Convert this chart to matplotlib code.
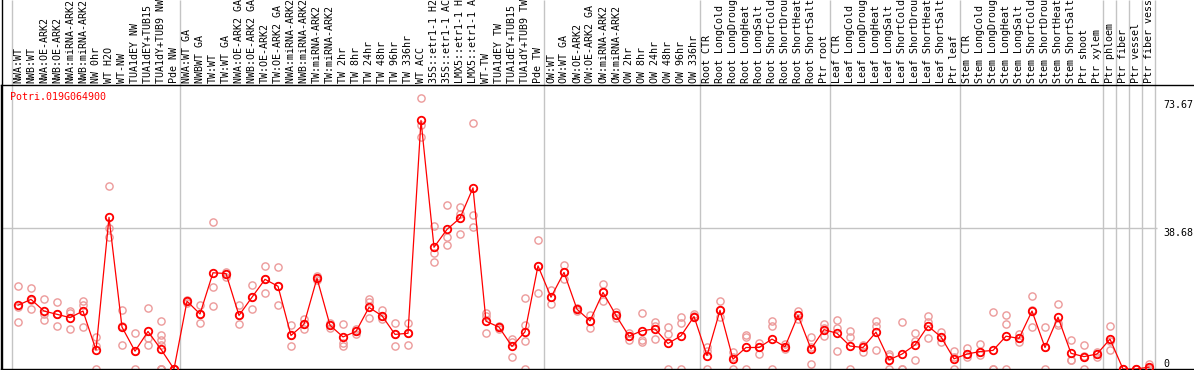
import matplotlib
matplotlib.use("Agg")
import matplotlib.pyplot as plt
from matplotlib.lines import Line2D

labels = [
    "NWA:WT", "NWB:WT", "NWA:OE-ARK2", "NWB:OE-ARK2", "NWA:miRNA-ARK2", "NWB:miRNA-ARK2",
    "NW 0hr", "WT H2O", "WT-NW", "TUA1dEY NW", "TUA1dEY+TUB15 NW", "TUA1dY+TUB9 NW", "Pde NW",
    "NWA:WT GA", "NWBWT GA", "TW:WT", "TW:WT GA", "NWA:OE-ARK2 GA", "NWB:OE-ARK2 GA",
    "TW:OE-ARK2", "TW:OE-ARK2 GA", "NWA:miRNA-ARK2 GA", "NWB:miRNA-ARK2 GA", "TW:miRNA-ARK2",
    "TW:miRNA-ARK2", "TW 2hr", "TW 8hr", "TW 24hr", "TW 48hr", "TW 96hr", "TW 336hr",
    "WT ACC", "35S::etr1-1 H2O", "35S::etr1-1 ACC", "LMX5::etr1-1 H2O", "LMX5::etr1-1 ACC",
    "WT-TW", "TUA1dEY TW", "TUA1dEY+TUB15 TW", "TUA1dY+TUB9 TW", "Pde TW",
    "OW:WT", "OW:WT GA", "OW:OE-ARK2", "OW:OE-ARK2 GA", "OW:miRNA-ARK2", "OW:miRNA-ARK2",
    "OW 2hr", "OW 8hr", "OW 24hr", "OW 48hr", "OW 96hr", "OW 336hr",
    "Root CTR", "Root LongCold", "Root LongDrought", "Root LongHeat", "Root LongSalt",
    "Root ShortCold", "Root ShortDrought", "Root ShortHeat", "Root ShortSalt", "Ptr root",
    "Leaf CTR", "Leaf LongCold", "Leaf LongDrought", "Leaf LongHeat", "Leaf LongSalt",
    "Leaf ShortCold", "Leaf ShortDrought", "Leaf ShortHeat", "Leaf ShortSalt", "Ptr leaf",
    "Stem CTR", "Stem LongCold", "Stem LongDrought", "Stem LongHeat", "Stem LongSalt",
    "Stem ShortCold", "Stem ShortDrought", "Stem ShortHeat", "Stem ShortSalt", "Ptr shoot",
    "Ptr xylem", "Ptr phloem", "Ptr fiber", "Ptr vessel", "Ptr fiber vessel",
]

means = [
    17.5, 19.1, 15.9, 15.0, 14.1, 15.9, 5.2, 41.6, 11.5, 4.9, 10.3, 5.4, 0.0,
    18.6, 15.1, 26.4, 26.2, 14.7, 19.7, 24.6, 22.7, 9.2, 12.3, 24.9, 12.0,
    8.8, 10.3, 16.9, 14.6, 9.5, 9.8, 68.2, 33.4, 38.3, 41.4, 49.7, 13.1,
    11.5, 6.2, 10.2, 28.3, 19.7, 26.5, 16.4, 13.2, 21.0, 14.7, 9.0, 10.5,
    11.0, 7.0, 9.1, 14.4, 3.7, 16.1, 2.7, 5.9, 5.9, 8.2, 6.1, 14.7, 5.5,
    10.8, 9.8, 6.3, 5.9, 10.1, 2.5, 4.1, 6.6, 11.8, 8.8, 2.8, 4.1, 4.8,
    5.1, 9.0, 8.4, 15.9, 5.9, 14.2, 4.3, 3.4, 4.1, 8.2, 0.0, 0.0, 0.5,
]

replicates = [
    [22.8, 16.9, 12.8], [22.1, 18.8, 16.4], [19.2, 15.1, 13.4], [18.4, 15.0, 11.7],
    [15.8, 15.5, 11.0], [18.7, 17.5, 11.5], [8.8, 6.4, 0.0], [50.2, 38.6, 36.3],
    [16.2, 11.8, 6.5], [9.8, 4.9, 0.0], [16.6, 8.4, 6.5],
    [13.3, 9.3, 8.0, 6.6, 0.0, 0.0, 0.0], [0.0, 0.0, 0.0],
    [19.0, 18.6, 18.2], [17.6, 15.1, 12.5], [40.2, 22.4, 17.2], [26.7, 26.2, 25.3],
    [17.6, 14.7, 12.3], [23.0, 19.7, 16.4], [28.3, 24.6, 20.8], [28.0, 22.7, 17.5],
    [12.1, 9.2, 6.4], [13.6, 12.3, 10.9], [25.5, 24.9, 24.3], [12.7, 12.0, 11.3],
    [12.3, 7.2, 6.4], [11.0, 10.3, 9.6], [19.2, 18.3, 14.0], [16.2, 13.8, 14.6],
    [12.5, 9.5, 6.4], [12.6, 9.8, 6.7], [74.3, 66.9, 63.6], [39.2, 31.7, 29.3],
    [45.0, 36.1, 34.0], [44.4, 42.6, 37.0], [67.4, 42.2, 39.0], [15.5, 14.5, 9.8],
    [11.9, 11.5, 10.9], [8.1, 7.5, 3.3], [19.4, 12.1, 7.8, 0.0], [35.3, 28.3, 20.9],
    [21.7, 19.7, 17.8], [28.5, 26.5, 24.8], [16.8, 16.4, 16.0], [14.8, 13.2, 11.2],
    [23.3, 21.0, 18.7], [15.7, 14.7, 13.9], [9.8, 9.0, 8.0], [15.3, 8.0, 7.5],
    [12.8, 11.9, 8.1], [11.4, 9.5, 0.0], [14.4, 12.7, 0.0], [15.0, 14.5, 14.4],
    [6.1, 5.0, 0.0], [18.7, 16.1, 14.4], [4.7, 3.4, 0.0], [9.3, 8.8, 0.0],
    [7.0, 5.9, 4.0], [13.2, 11.9, 0.0], [6.8, 6.1, 5.5], [15.9, 14.7, 13.6],
    [8.9, 6.1, 1.5], [12.3, 11.2, 9.0], [13.4, 11.2, 4.9], [10.5, 8.8, 0.0],
    [6.6, 6.3, 4.8], [13.3, 11.9, 5.2], [4.0, 3.5, 0.0], [12.8, 0.0, 0.0],
    [10.0, 7.8, 2.5], [14.5, 13.0, 8.4], [10.2, 8.8, 7.3], [5.0, 3.4, 0.0],
    [5.7, 4.1, 3.4], [6.8, 4.8, 3.8], [15.6, 0.0, 0.0], [14.7, 12.3, 0.0],
    [9.6, 8.4, 7.3], [19.9, 16.2, 11.6], [11.6, 6.1, 0.0], [17.8, 12.7, 12.1],
    [8.0, 2.5, 2.4], [6.6, 3.6, 0.0], [4.8, 4.1, 3.4], [11.8, 7.6, 5.2],
    [0.0, 0.0, 0.0], [0.0, 0.0, 0.0], [1.3, 0.2, 0.0],
]

group_starts = [0, 13, 41, 53, 63, 73, 84, 85, 86, 87, 88]
ytick_values = [0, 38.68, 73.67]
ytick_labels = ["0", "38.68", "73.67"]
gene_name = "Potri.019G064900"

assert len(labels) == len(means) == len(replicates) == 88

W, H = 1194, 370
fig = plt.figure(figsize=(W / 100, H / 100), dpi=100)
# plot region: px x 1..1194, y 85..369 (from top)
ax = fig.add_axes([1 / W, 1 / H, (W - 1) / W, 284 / H])
PX_PER_CAT = 13.0
X0 = 18.0  # pixel of first category center
PX_PER_UNIT = 3.645
ax.set_xlim((1 - X0) / PX_PER_CAT, (W - X0) / PX_PER_CAT)
ymax = 284 / PX_PER_UNIT
ax.set_ylim(0, ymax)
ytop_fig = 369 / PX_PER_UNIT  # value at figure top

mono = "DejaVu Sans Mono"
fs = 7.2
grid_c = "#c4c4c4"

for s in ["right"]:
    ax.spines[s].set_visible(False)
for s in ["top", "bottom", "left"]:
    ax.spines[s].set_linewidth(1.0)
    ax.spines[s].set_color("black")
fig.add_artist(Line2D([1.5 / W, 1.5 / W], [0, 1], color="black", lw=1.0))

# vertical gridlines (through label area)
for b in group_starts:
    ax.vlines(b - 0.5, 0, ytop_fig, colors=grid_c, lw=1.0, clip_on=False, zorder=0)
# horizontal gridline
ax.hlines(38.68, ax.get_xlim()[0], 87.6, colors=grid_c, lw=1.0, zorder=0)

# category labels on top
ax.xaxis.tick_top()
ax.set_xticks(range(len(labels)))
ax.set_xticklabels(labels, rotation=90, fontfamily=mono, fontsize=fs)
ax.tick_params(axis="x", length=0, pad=1.5)
ax.set_yticks([])

# replicates
for i, reps in enumerate(replicates):
    ax.plot([i] * len(reps), reps, linestyle="none", marker="o", markersize=5.2,
            markerfacecolor="none", markeredgecolor="#ec9a9a", markeredgewidth=1.0,
            zorder=2)

# mean line
ax.plot(range(len(means)), means, color="#ff0000", lw=0.9, marker="o", markersize=5.4,
        markerfacecolor="none", markeredgecolor="#ff0000", markeredgewidth=1.3, zorder=3)

# gene name
ax.text(9 / (W - 1), 1 - 12 / 284, gene_name, transform=ax.transAxes, color="#ff0000",
        fontfamily=mono, fontsize=fs, va="center", ha="left")

# y labels on the right
xlab = (1163 - X0) / PX_PER_CAT
for v, t in zip(ytick_values, ytick_labels):
    ax.text(xlab, v, t, fontfamily=mono, fontsize=fs, ha="left",
            va="bottom" if v == 0 else "top", color="black")

fig.savefig("out.png", dpi=100)
